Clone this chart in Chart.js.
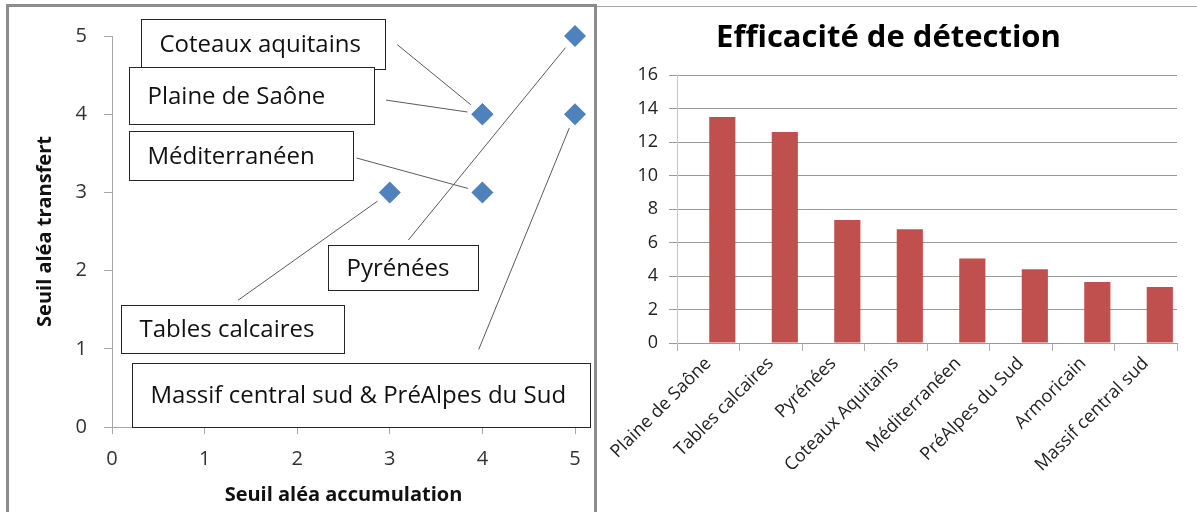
<!DOCTYPE html>
<html lang="fr">
<head>
<meta charset="utf-8">
<title>Seuils d'aléa et efficacité de détection</title>
<script src="https://cdn.jsdelivr.net/npm/chart.js@4.4.1/dist/chart.umd.min.js"></script>
<style>
  html, body { margin: 0; padding: 0; background: #fff; overflow: hidden; }
  body { width: 1197px; height: 512px; position: relative; }
  #cadreGauche { position: absolute; left: 6px; top: 4px; width: 585px; height: 530px; border: 3px solid #8c8c8c; }
  #filetDroit { position: absolute; left: 597px; top: 6px; width: 600px; border-top: 1px solid #a6a6a6; }
  .zone { position: absolute; top: 0; height: 512px; }
  #zoneSeuils { left: 0; width: 600px; }
  #zoneEfficacite { left: 600px; width: 597px; }
</style>
</head>
<body>
<div id="cadreGauche"></div>
<div id="filetDroit"></div>
<div class="zone" id="zoneSeuils"><canvas id="graficoSeuils"></canvas></div>
<div class="zone" id="zoneEfficacite"><canvas id="graficoEfficacite"></canvas></div>

<script>
// DONNÉES - graphique de gauche (seuils par région)
const regionsSeuils = ['Coteaux aquitains', 'Plaine de Saône', 'Méditerranéen', 'Pyrénées', 'Tables calcaires', 'Massif central sud & PréAlpes du Sud'];
const seuilAccumulation = [4, 4, 4, 5, 3, 5];
const seuilTransfert = [4, 4, 3, 5, 3, 4];
const ticksSeuils = [0, 1, 2, 3, 4, 5];

// DONNÉES - graphique de droite (efficacité de détection)
const categoriesEfficacite = ['Plaine de Saône', 'Tables calcaires', 'Pyrénées', 'Coteaux Aquitains', 'Méditerranéen', 'PréAlpes du Sud', 'Armoricain', 'Massif central sud'];
const efficaciteDetection = [13.5, 12.6, 7.35, 6.8, 5.05, 4.4, 3.65, 3.35];
const ticksEfficacite = [0, 2, 4, 6, 8, 10, 12, 14, 16];

// Mise en page des étiquettes (en unités des axes) : [gauche, haut, droite, bas, départ trait x, départ trait y]
const cadresEtiquettes = [
    [0.31, 5.22, 2.95, 4.58, 3.08, 4.89],
    [0.18, 4.60, 2.83, 3.88, 2.96, 4.18],
    [0.18, 3.79, 2.60, 3.16, 2.64, 3.44],
    [2.33, 2.33, 3.95, 1.75, 3.20, 2.39],
    [0.10, 1.56, 2.51, 0.95, 1.36, 1.62],
    [0.22, 0.82, 5.16, 0.00, 3.96, 0.99]
];

Chart.defaults.font.family = '"Open Sans", sans-serif';
Chart.defaults.animation = false;

/* ============================================================
   Étiquettes encadrées avec traits de rappel
   ============================================================ */
const pluginEtiquettes = {
    id: 'etiquettes',
    afterDraw(chart) {
        const { ctx } = chart;
        const sx = chart.scales.x, sy = chart.scales.y;
        ctx.save();

        // traits de rappel vers les points
        ctx.strokeStyle = '#5a5a5a';
        ctx.lineWidth = 1;
        regionsSeuils.forEach((nom, i) => {
            const c = cadresEtiquettes[i];
            const px = sx.getPixelForValue(seuilAccumulation[i]);
            const py = sy.getPixelForValue(seuilTransfert[i]);
            const x0 = sx.getPixelForValue(c[4]);
            const y0 = sy.getPixelForValue(c[5]);
            const d = Math.hypot(px - x0, py - y0);
            const ecart = 15;
            ctx.beginPath();
            ctx.moveTo(x0, y0);
            ctx.lineTo(px - (px - x0) * ecart / d, py - (py - y0) * ecart / d);
            ctx.stroke();
        });

        // cadres + texte
        ctx.font = '24px "Open Sans", sans-serif';
        ctx.textBaseline = 'middle';
        ctx.textAlign = 'left';
        regionsSeuils.forEach((nom, i) => {
            const c = cadresEtiquettes[i];
            const l = Math.round(sx.getPixelForValue(c[0])) + 0.5;
            const t = Math.round(sy.getPixelForValue(c[1])) + 0.5;
            const r = Math.round(sx.getPixelForValue(c[2])) + 0.5;
            const b = Math.round(sy.getPixelForValue(c[3])) + 0.5;
            ctx.fillStyle = '#fff';
            ctx.fillRect(l, t, r - l, b - t);
            ctx.strokeStyle = '#262626';
            ctx.strokeRect(l, t, r - l, b - t);
            ctx.fillStyle = '#111';
            ctx.fillText(nom, l + 18, (t + b) / 2 + 1);
        });
        ctx.restore();
    }
};

/* ============================================================
   1. GRAPHIQUE : SEUILS (nuage de points)
   ============================================================ */
function initGraficoSeuils() {
    const ctx = document.getElementById('graficoSeuils');
    new Chart(ctx, {
        type: 'scatter',
        data: {
            datasets: [{
                data: regionsSeuils.map((r, i) => ({ x: seuilAccumulation[i], y: seuilTransfert[i] })),
                pointStyle: 'rectRot',
                pointRadius: 11,
                backgroundColor: '#4F81BD',
                borderWidth: 0,
                clip: false
            }]
        },
        options: {
            responsive: true,
            maintainAspectRatio: false,
            layout: { padding: { top: 36, right: 25, left: 0, bottom: 0 } },
            plugins: { legend: { display: false }, tooltip: { enabled: false } },
            scales: {
                x: {
                    type: 'linear',
                    min: ticksSeuils[0],
                    max: ticksSeuils[ticksSeuils.length - 1],
                    ticks: { stepSize: ticksSeuils[1] - ticksSeuils[0], padding: 13, font: { size: 20 }, color: '#333' },
                    grid: { drawOnChartArea: false, tickLength: 7, color: '#a6a6a6' },
                    border: { color: '#a6a6a6' },
                    title: { display: true, text: 'Seuil aléa accumulation', color: '#111', font: { size: 20, weight: 'bold' }, padding: { top: 0, bottom: 5 } },
                    afterFit: s => { s.height = 85; }
                },
                y: {
                    min: ticksSeuils[0],
                    max: ticksSeuils[ticksSeuils.length - 1],
                    ticks: { stepSize: ticksSeuils[1] - ticksSeuils[0], padding: 17, font: { size: 20 }, color: '#333' },
                    grid: { drawOnChartArea: false, tickLength: 8, color: '#a6a6a6' },
                    border: { color: '#a6a6a6' },
                    title: { display: true, text: 'Seuil aléa transfert', color: '#111', font: { size: 20, weight: 'bold' }, padding: { top: 33, bottom: 0 } },
                    afterFit: s => { s.width = 112; }
                }
            }
        },
        plugins: [pluginEtiquettes]
    });
}

/* ============================================================
   2. GRAPHIQUE : EFFICACITÉ DE DÉTECTION (barres)
   ============================================================ */
function initGraficoEfficacite() {
    const ctx = document.getElementById('graficoEfficacite');
    new Chart(ctx, {
        type: 'bar',
        data: {
            labels: categoriesEfficacite,
            datasets: [
                { data: categoriesEfficacite.map(() => null) }, // série vide (décale les barres comme l'original)
                {
                    data: efficaciteDetection,
                    backgroundColor: '#C0504D',
                    borderWidth: 0
                }
            ]
        },
        options: {
            responsive: true,
            maintainAspectRatio: false,
            categoryPercentage: 0.9,
            barPercentage: 0.93,
            layout: { padding: { top: 0, right: 20, left: 0, bottom: 0 } },
            plugins: {
                legend: { display: false },
                tooltip: { enabled: false },
                title: {
                    display: true,
                    text: 'Efficacité de détection',
                    color: '#000',
                    font: { size: 31, weight: 'bold' },
                    padding: { top: 20, bottom: 18 }
                }
            },
            scales: {
                x: {
                    grid: { drawOnChartArea: false, offset: true, tickLength: 8, color: '#b0b0b0' },
                    border: { color: '#9a9a9a' },
                    ticks: { minRotation: 45, maxRotation: 45, autoSkip: false, padding: 2, font: { size: 18 }, color: '#222' },
                    afterFit: s => { s.height = 169; }
                },
                y: {
                    min: ticksEfficacite[0],
                    max: ticksEfficacite[ticksEfficacite.length - 1],
                    ticks: { stepSize: ticksEfficacite[1] - ticksEfficacite[0], padding: 11, font: { size: 18 }, color: '#222' },
                    grid: { color: '#9a9a9a', tickLength: 8 },
                    border: { color: '#c8c8c8' },
                    afterFit: s => { s.width = 77; }
                }
            }
        }
    });
}

document.addEventListener('DOMContentLoaded', () => {
    initGraficoSeuils();
    initGraficoEfficacite();
});
</script>
</body>
</html>
